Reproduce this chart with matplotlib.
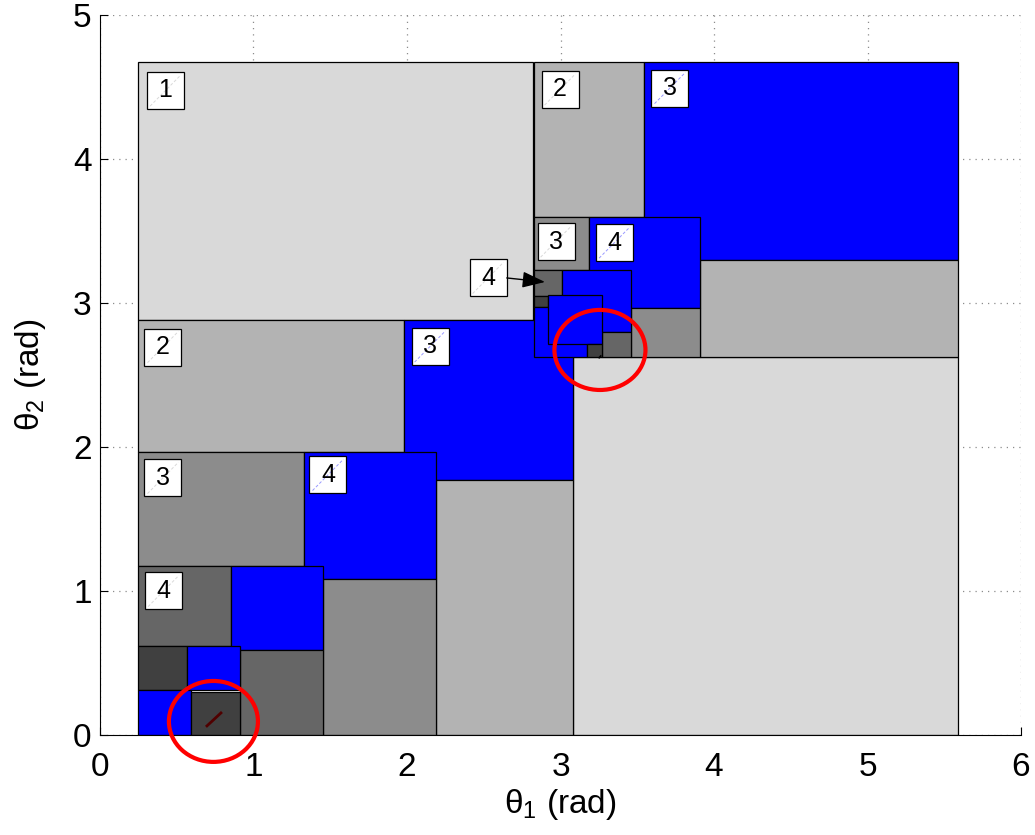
import numpy as np
import matplotlib.pyplot as plt
from matplotlib.patches import Rectangle, Ellipse

plt.rcParams['font.family'] = ['Liberation Sans', 'DejaVu Sans']
plt.rcParams['mathtext.fontset'] = 'custom'
plt.rcParams['mathtext.rm'] = 'Liberation Sans'
plt.rcParams['mathtext.it'] = 'Liberation Sans'

# boxes: x0, x1, y0, y1, grey level ('b' = blue), in drawing order
box_x0 = [0.248, 3.081, 2.827, 3.544, 3.909, 0.248, 1.980, 2.190,
          2.827, 3.186, 3.459, 2.827, 3.010, 3.270, 2.827, 2.827, 2.918, 3.172,
          0.248, 1.329, 1.453, 0.248, 0.853, 0.912, 0.248, 0.567, 0.248, 0.593]
box_x1 = [2.824, 5.589, 3.544, 5.589, 5.589, 1.980, 3.081, 3.081,
          3.186, 3.909, 3.909, 3.010, 3.459, 3.459, 2.918, 3.172, 3.270, 3.270,
          1.329, 2.190, 2.190, 0.853, 1.453, 1.453, 0.567, 0.912, 0.593, 0.912]
box_y0 = [2.882, 0.000, 3.597, 3.299, 2.627, 1.965, 1.771, 0.000,
          3.229, 2.965, 2.627, 3.049, 2.799, 2.627, 2.972, 2.627, 2.715, 2.627,
          1.174, 1.083, 0.000, 0.618, 0.590, 0.000, 0.313, 0.313, 0.000, 0.000]
box_y1 = [4.674, 2.627, 4.674, 4.674, 3.299, 2.882, 2.882, 1.771,
          3.597, 3.597, 2.965, 3.229, 3.229, 2.799, 3.049, 2.972, 3.056, 2.715,
          1.965, 1.965, 1.083, 1.174, 1.174, 0.590, 0.618, 0.618, 0.313, 0.301]
box_col = ['0.85', '0.85', '0.7', 'b', '0.7', '0.7', 'b', '0.7',
           '0.55', 'b', '0.55', '0.4', 'b', '0.4', '0.25', 'b', 'b', '0.25',
           '0.55', 'b', '0.55', '0.4', 'b', '0.4', '0.25', 'b', 'b', '0.25']

# level labels
lab_txt = ['1', '2', '3', '3', '4', '4', '2', '3', '3', '4', '4']
lab_x = [0.427, 2.997, 3.713, 2.971, 3.352, 2.528, 0.410, 2.150, 0.410, 1.485, 0.414]
lab_y = [4.476, 4.483, 4.493, 3.427, 3.420, 3.174, 2.694, 2.698, 1.785, 1.806, 1.000]
lab_bg = ['0.85', '0.7', 'b', '0.55', 'b', '0.85', '0.7', 'b', '0.55', 'b', '0.4']

# marked regions
circ_x = [0.739, 3.257]
circ_y = [0.094, 2.674]
circ_w = [0.580, 0.593]
circ_h = [0.562, 0.556]

fig = plt.figure(figsize=(10.35, 8.35), dpi=100)
ax = fig.add_axes([0.0966, 0.1198, 0.8899, 0.8622])

for x0, x1, y0, y1, c in zip(box_x0, box_x1, box_y0, box_y1, box_col):
    fc = '#0000ff' if c == 'b' else c
    ax.add_patch(Rectangle((x0, y0), x1 - x0, y1 - y0, facecolor=fc,
                           edgecolor='k', lw=0.9, zorder=2))

# small segments inside the darkest cells
ax.plot([0.697, 0.788], [0.063, 0.153], color='#500000', lw=2, zorder=3)
ax.plot([3.252, 3.262], [2.620, 2.632], color='k', lw=1.2, zorder=3)

bw, bh = 0.241, 0.257
for t, x, y, bg in zip(lab_txt, lab_x, lab_y, lab_bg):
    ax.add_patch(Rectangle((x - bw / 2, y - bh / 2), bw, bh, facecolor='white',
                           edgecolor='k', lw=0.9, zorder=4))
    lc = '#9999ff' if bg == 'b' else '0.85'
    ax.plot([x - bw / 2 + 0.02, x + bw / 2 - 0.02], [y - bh / 2 + 0.02, y + bh / 2 - 0.02],
            color=lc, lw=0.7, ls=(0, (3, 2)), zorder=4.5)
    ax.text(x, y, t, ha='center', va='center', fontsize=18, zorder=5)

ax.annotate('', xy=(2.899, 3.146), xytext=(2.650, 3.174),
            arrowprops=dict(arrowstyle='-|>,head_length=0.7,head_width=0.25',
                            color='k', lw=1, mutation_scale=20,
                            shrinkA=0, shrinkB=0), zorder=6)

for cx, cy, w, h in zip(circ_x, circ_y, circ_w, circ_h):
    ax.add_patch(Ellipse((cx, cy), w, h, fill=False, edgecolor='red', lw=3,
                         zorder=7, clip_on=False))

ax.set_xlim(0, 6)
ax.set_ylim(0, 5)
ax.set_xticks(range(7))
ax.set_yticks(range(6))
ax.set_axisbelow(True)
ax.grid(True, ls=(0, (1, 4)), color='0.55', lw=0.9)
ax.spines['top'].set_visible(False)
ax.spines['right'].set_visible(False)
ax.tick_params(direction='in', length=6, labelsize=24)
ax.tick_params(axis='x', pad=12)
ax.tick_params(axis='y', pad=6)
ax.set_xlabel(r'θ$_1$ (rad)', fontsize=24, labelpad=3)
ax.set_ylabel(r'θ$_2$ (rad)', fontsize=24, labelpad=18)

plt.savefig('out.png', dpi=100)
